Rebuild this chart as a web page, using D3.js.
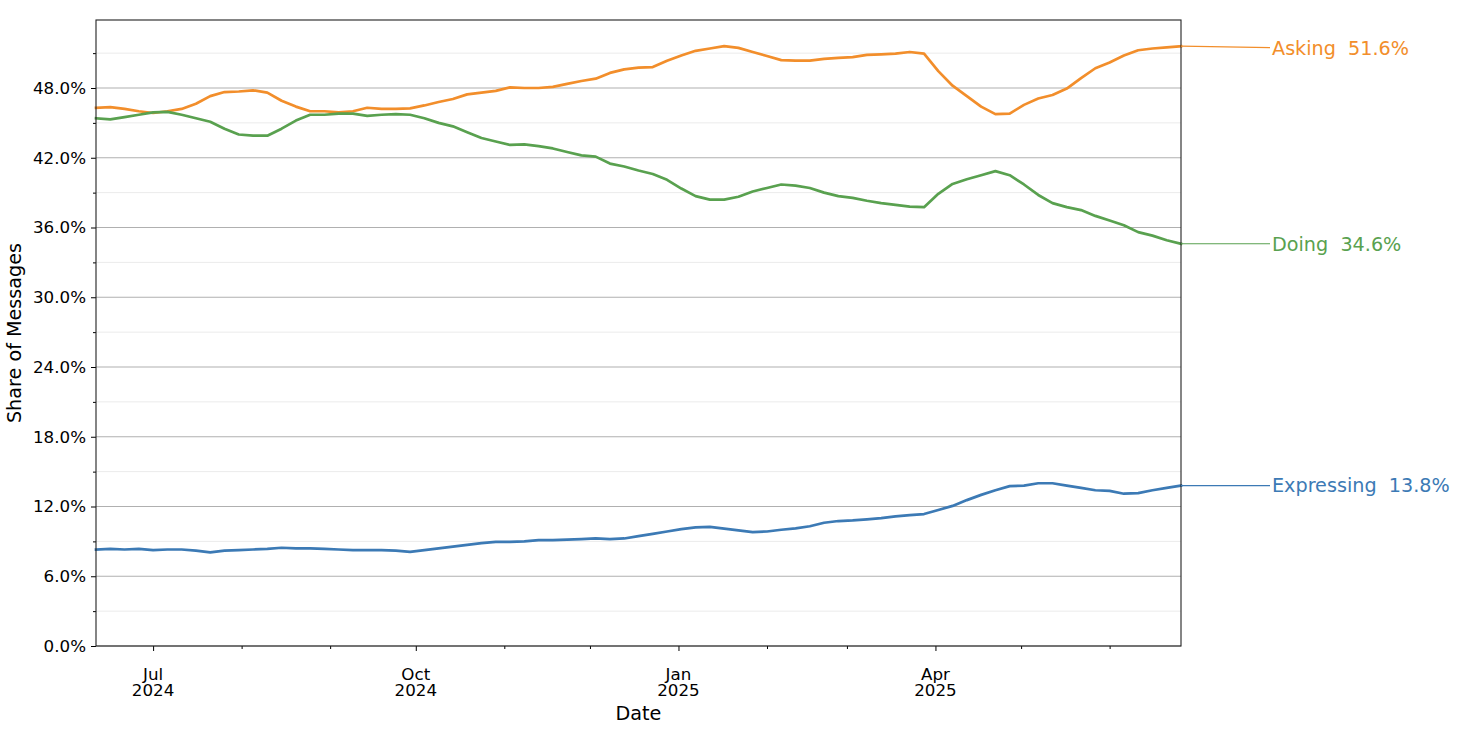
<!DOCTYPE html>
<html>
<head>
<meta charset="utf-8">
<script src="https://cdn.jsdelivr.net/npm/d3@7"></script>
<style>
  html, body { margin: 0; padding: 0; background: #ffffff; }
  svg { display: block; font-family: "DejaVu Sans", sans-serif; }
</style>
</head>
<body>
<svg id="chart" width="1458" height="734"></svg>
<script>
// ---------------- data ----------------
const dates = [
  "2024-06-11","2024-06-16","2024-06-21","2024-06-26","2024-07-01","2024-07-06","2024-07-11","2024-07-16",
  "2024-07-21","2024-07-26","2024-07-31","2024-08-05","2024-08-10","2024-08-15","2024-08-20","2024-08-25",
  "2024-08-30","2024-09-04","2024-09-09","2024-09-14","2024-09-19","2024-09-24","2024-09-29","2024-10-04",
  "2024-10-09","2024-10-14","2024-10-19","2024-10-24","2024-10-29","2024-11-03","2024-11-08","2024-11-13",
  "2024-11-18","2024-11-23","2024-11-28","2024-12-03","2024-12-08","2024-12-13","2024-12-18","2024-12-23",
  "2024-12-28","2025-01-02","2025-01-07","2025-01-12","2025-01-17","2025-01-22","2025-01-27","2025-02-01",
  "2025-02-06","2025-02-11","2025-02-16","2025-02-21","2025-02-26","2025-03-03","2025-03-08","2025-03-13",
  "2025-03-18","2025-03-23","2025-03-28","2025-04-02","2025-04-07","2025-04-12","2025-04-17","2025-04-22",
  "2025-04-27","2025-05-02","2025-05-07","2025-05-12","2025-05-17","2025-05-22","2025-05-27","2025-06-01",
  "2025-06-06","2025-06-11","2025-06-16","2025-06-21","2025-06-26"
];

const asking = [
  46.3, 46.35, 46.2, 46.0, 45.85, 46.0, 46.2, 46.65,
  47.3, 47.65, 47.7, 47.8, 47.6, 46.9, 46.4, 46.0,
  46.0, 45.9, 46.0, 46.3, 46.2, 46.2, 46.25, 46.5,
  46.8, 47.05, 47.45, 47.6, 47.75, 48.05, 48.0, 48.0,
  48.1, 48.35, 48.6, 48.8, 49.3, 49.6, 49.75, 49.8,
  50.35, 50.8, 51.2, 51.4, 51.6, 51.45, 51.1, 50.75,
  50.4, 50.35, 50.35, 50.5, 50.6, 50.65, 50.85, 50.9,
  50.95, 51.1, 50.95, 49.45, 48.2, 47.3, 46.4, 45.75,
  45.8, 46.55, 47.1, 47.4, 47.95, 48.85, 49.7, 50.2,
  50.8, 51.25, 51.4, 51.5, 51.6
];

const doing = [
  45.4, 45.3, 45.5, 45.7, 45.9, 45.95, 45.7, 45.4,
  45.1, 44.5, 44.0, 43.9, 43.9, 44.5, 45.2, 45.7,
  45.7, 45.8, 45.8, 45.6, 45.7, 45.75, 45.7, 45.4,
  45.0, 44.7, 44.2, 43.7, 43.4, 43.1, 43.15, 43.0,
  42.8, 42.5, 42.2, 42.1, 41.5, 41.25, 40.9, 40.6,
  40.1, 39.35, 38.7, 38.4, 38.4, 38.65, 39.1, 39.4,
  39.7, 39.6, 39.4, 39.0, 38.7, 38.55, 38.3, 38.1,
  37.95, 37.8, 37.75, 38.9, 39.75, 40.15, 40.5, 40.85,
  40.5, 39.7, 38.8, 38.1, 37.75, 37.5, 37.0, 36.6,
  36.2, 35.6, 35.3, 34.9, 34.6
];

const expressing = [
  8.3, 8.35, 8.3, 8.35, 8.25, 8.3, 8.3, 8.2,
  8.05, 8.2, 8.25, 8.3, 8.35, 8.45, 8.4, 8.4,
  8.35, 8.3, 8.25, 8.25, 8.25, 8.2, 8.1, 8.25,
  8.4, 8.55, 8.7, 8.85, 8.95, 8.95, 9.0, 9.1,
  9.1, 9.15, 9.2, 9.25, 9.2, 9.25, 9.45, 9.65,
  9.85, 10.05, 10.2, 10.25, 10.1, 9.95, 9.8, 9.85,
  10.0, 10.12, 10.3, 10.6, 10.75, 10.8, 10.9, 11.0,
  11.15, 11.25, 11.35, 11.7, 12.05, 12.55, 13.0, 13.4,
  13.75, 13.8, 14.0, 14.0, 13.8, 13.6, 13.4, 13.35,
  13.1, 13.15, 13.4, 13.6, 13.8
];

const seriesNames = ["Asking", "Doing", "Expressing"];
const seriesColors = ["#f28e2b", "#59a14f", "#3c7ab5"];

const yMajorTicks = [0, 6, 12, 18, 24, 30, 36, 42, 48];
const yMinorTicks = [3, 9, 15, 21, 27, 33, 39, 45, 51];
const xMajorTickDates = ["2024-07-01", "2024-10-01", "2025-01-01", "2025-04-01"];
const xMajorTickLabels = [["Jul", "2024"], ["Oct", "2024"], ["Jan", "2025"], ["Apr", "2025"]];
const xMinorTickDates = ["2024-08-01", "2024-09-01", "2024-11-01", "2024-12-01",
                         "2025-02-01", "2025-03-01", "2025-05-01", "2025-06-01"];

const xAxisTitle = "Date";
const yAxisTitle = "Share of Messages";

// ---------------- layout ----------------
const margin = { left: 96, right: 1181, top: 20, bottom: 646 };
const parse = d3.timeParse("%Y-%m-%d");
const dateObjs = dates.map(parse);

const x = d3.scaleTime()
  .domain([dateObjs[0], dateObjs[dateObjs.length - 1]])
  .range([margin.left, margin.right]);
const y = d3.scaleLinear().domain([0, 53.85]).range([margin.bottom, margin.top]);

const svg = d3.select("#chart");
const fsTick = 16.7;
const fsLabel = 19.2;

// grid lines
const grid = svg.append("g");
grid.selectAll("line.minor").data(yMinorTicks).join("line")
  .attr("x1", margin.left).attr("x2", margin.right)
  .attr("y1", d => y(d)).attr("y2", d => y(d))
  .attr("stroke", "#ebebeb").attr("stroke-width", 1);
grid.selectAll("line.major").data(yMajorTicks).join("line")
  .attr("x1", margin.left).attr("x2", margin.right)
  .attr("y1", d => y(d)).attr("y2", d => y(d))
  .attr("stroke", "#b0b0b0").attr("stroke-width", 1.1);

// lines
const allSeries = [asking, doing, expressing];
const line = d3.line()
  .x((d, i) => x(dateObjs[i]))
  .y(d => y(d))
  .curve(d3.curveLinear);

allSeries.forEach((vals, k) => {
  svg.append("path")
    .datum(vals)
    .attr("d", line)
    .attr("fill", "none")
    .attr("stroke", seriesColors[k])
    .attr("stroke-width", 2.7)
    .attr("stroke-linejoin", "round")
    .attr("stroke-linecap", "square");
});

// axes
const yAxis = d3.axisLeft(y).tickValues(yMajorTicks)
  .tickFormat(d => d.toFixed(1) + "%").tickSize(5).tickPadding(5);
const yAxisMinor = d3.axisLeft(y).tickValues(yMinorTicks).tickFormat("").tickSize(3);

const gy = svg.append("g").attr("transform", `translate(${margin.left},0)`).call(yAxis);
const gyMinor = svg.append("g").attr("transform", `translate(${margin.left},0)`).call(yAxisMinor);

const xAxis = d3.axisBottom(x).tickValues(xMajorTickDates.map(parse))
  .tickFormat("").tickSize(5);
const xAxisMinor = d3.axisBottom(x).tickValues(xMinorTickDates.map(parse))
  .tickFormat("").tickSize(3);
const gx = svg.append("g").attr("transform", `translate(0,${margin.bottom})`).call(xAxis);
const gxMinor = svg.append("g").attr("transform", `translate(0,${margin.bottom})`).call(xAxisMinor);

[gy, gyMinor, gx, gxMinor].forEach(g => {
  g.select(".domain").remove();
  g.selectAll(".tick line").attr("stroke", "#000").attr("stroke-width", 1);
});
gy.selectAll(".tick text").attr("font-size", fsTick).attr("fill", "#000")
  .attr("font-family", "DejaVu Sans");

// x tick labels (two lines)
xMajorTickDates.forEach((ds, i) => {
  const t = svg.append("text")
    .attr("x", x(parse(ds)))
    .attr("y", margin.bottom + 34)
    .attr("text-anchor", "middle")
    .attr("font-size", fsTick)
    .attr("fill", "#000");
  t.append("tspan").attr("x", x(parse(ds))).attr("dy", 0).text(xMajorTickLabels[i][0]);
  t.append("tspan").attr("x", x(parse(ds))).attr("dy", 16).text(xMajorTickLabels[i][1]);
});

// frame
svg.append("rect")
  .attr("x", margin.left).attr("y", margin.top)
  .attr("width", margin.right - margin.left).attr("height", margin.bottom - margin.top)
  .attr("fill", "none").attr("stroke", "#222").attr("stroke-width", 1.1);

// axis titles
svg.append("text")
  .attr("x", (margin.left + margin.right) / 2)
  .attr("y", 720)
  .attr("text-anchor", "middle")
  .attr("font-size", fsLabel)
  .attr("fill", "#000")
  .text(xAxisTitle);

svg.append("text")
  .attr("transform", `translate(21,${(margin.top + margin.bottom) / 2}) rotate(-90)`)
  .attr("text-anchor", "middle")
  .attr("font-size", fsLabel)
  .attr("fill", "#000")
  .text(yAxisTitle);

// end labels
const labelX = 1272;
allSeries.forEach((vals, k) => {
  const last = vals[vals.length - 1];
  const y0 = y(last);
  const ly = k === 0 ? y0 + 1.5 : y0;
  svg.append("line")
    .attr("x1", margin.right).attr("y1", y0)
    .attr("x2", labelX - 2).attr("y2", ly)
    .attr("stroke", seriesColors[k]).attr("stroke-width", 1.1);
  svg.append("text")
    .attr("x", labelX)
    .attr("y", ly)
    .attr("dy", "0.36em")
    .attr("font-size", fsLabel)
    .attr("fill", seriesColors[k])
    .attr("xml:space", "preserve")
    .style("white-space", "pre")
    .text(`${seriesNames[k]}  ${last.toFixed(1)}%`);
});
</script>
</body>
</html>
